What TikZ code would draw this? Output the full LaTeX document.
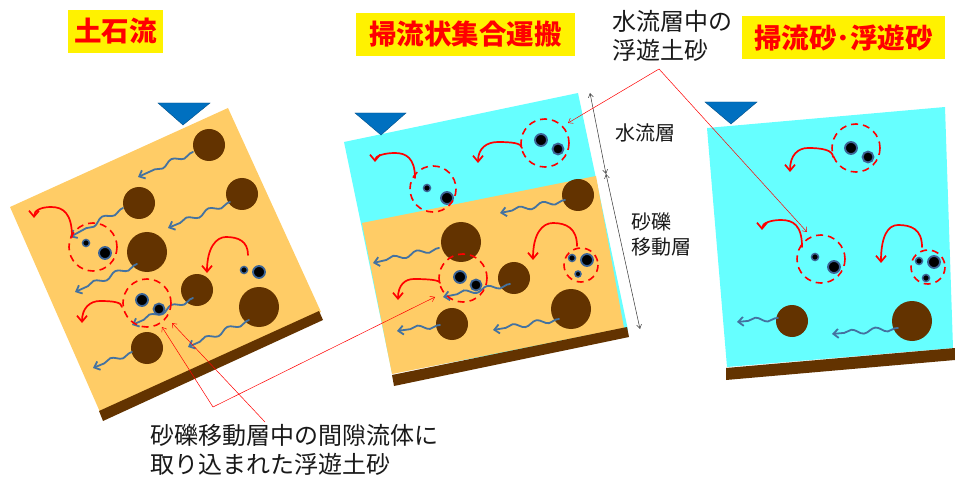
\documentclass[tikz,border=0pt]{standalone}
\usepackage{fontspec}
\setmainfont{Noto Sans CJK JP}
\usepackage{tikz}
\usetikzlibrary{arrows.meta,decorations.pathmorphing}
\definecolor{sand}{RGB}{255,204,102}
\definecolor{water}{RGB}{102,255,255}
\definecolor{gravel}{RGB}{99,51,0}
\definecolor{flowblue}{RGB}{68,114,160}
\definecolor{ringblue}{RGB}{60,100,150}
\definecolor{surface}{RGB}{0,112,192}

\tikzset{
  title/.style={fill=yellow, text=red, inner sep=0pt, minimum height=43pt,
    font=\fontsize{27.5}{30}\selectfont\bfseries},
  note/.style={align=left, inner sep=0pt, text=black!90,
    font=\fontsize{24}{29}\selectfont},
  tag/.style={align=left, inner sep=0pt, text=black!90,
    font=\fontsize{20}{25}\selectfont},
  flow/.style={draw=flowblue, line width=1.8pt, line cap=round, decorate,
    decoration={snake, amplitude=2.5pt, segment length=24pt,
      pre length=3pt, post length=10pt},
    -{Straight Barb[length=5pt,width=9pt]}},
  curl/.style={draw=red, line width=1.7pt, line cap=round,
    -{Straight Barb[length=6pt,width=10pt]}},
  cluster/.style={draw=red, line width=1.6pt, dash pattern=on 7pt off 5pt},
  bigfine/.style={fill=black, draw=ringblue, line width=1.8pt},
  smallfine/.style={fill=black, draw=ringblue, line width=1.5pt},
  leader/.style={draw=red, line width=0.5pt, -{Straight Barb[length=4pt,width=6pt]}},
  dim/.style={draw=black!80, line width=0.5pt,
    {Straight Barb[length=4pt,width=5pt]}-{Straight Barb[length=4pt,width=5pt]}}
}

\begin{document}
\begin{tikzpicture}[x=1pt, y=-1pt]
    \useasboundingbox (0,0) rectangle (955,478);

    % Debris flow block
    \fill[sand] (10,207) -- (228,108) -- (321,312) -- (100,412) -- cycle;
    \fill[gravel] (99,411) -- (319,311) -- (323,320) -- (103,421) -- cycle;
    \filldraw[fill=surface, draw=surface!70!black, line width=0.4pt]
        (158,103) -- (210,103) -- (183,125) -- cycle;

    % Immature debris flow block
    \fill[water] (344,142) -- (578,93) -- (628,330) -- (392,373) -- cycle;
    \fill[sand] (362,223) -- (596,176) -- (624,328) -- (392,374) -- cycle;
    \fill[gravel] (392,375) -- (627,327) -- (629,337) -- (394,386) -- cycle;
    \filldraw[fill=surface, draw=surface!70!black, line width=0.4pt]
        (355,113) -- (406,113) -- (381,135) -- cycle;

    % Bed load block
    \fill[water] (707,128) -- (945,107) -- (953,348) -- (727,367) -- cycle;
    \fill[gravel] (726,368) -- (955,348) -- (955,360) -- (726,380) -- cycle;
    \filldraw[fill=surface, draw=surface!70!black, line width=0.4pt]
        (705,102) -- (757,102) -- (731,124) -- cycle;

    % Gravel
    \fill[gravel] (209,145) circle (16);
    \fill[gravel] (139,203) circle (16);
    \fill[gravel] (242,194) circle (16);
    \fill[gravel] (147,252) circle (20);
    \fill[gravel] (197,290) circle (16);
    \fill[gravel] (259,307) circle (20);
    \fill[gravel] (147,348) circle (16);
    \fill[gravel] (578,195) circle (16);
    \fill[gravel] (461,242) circle (20);
    \fill[gravel] (514,278) circle (16);
    \fill[gravel] (571,309) circle (20);
    \fill[gravel] (452,324) circle (16);
    \fill[gravel] (792,321) circle (16);
    \fill[gravel] (912,321) circle (20);

    % Gravel motion
    \draw[flow] (193,152) -- (138,177);
    \draw[flow] (123,208) -- (70,237);
    \draw[flow] (230,202) -- (168,228);
    \draw[flow] (137,264) -- (75,292);
    \draw[flow] (193,298) -- (132,325);
    \draw[flow] (249,320) -- (188,347);
    \draw[flow] (132,352) -- (93,368);
    \draw[flow] (565,200) -- (500,213);
    \draw[flow] (439,248) -- (373,263);
    \draw[flow] (510,284) -- (443,297);
    \draw[flow] (559,319) -- (493,330);
    \draw[flow] (440,325) -- (397,331);
    \draw[flow] (778,318) -- (737,322);
    \draw[flow] (898,328) -- (832,334);

    % Fine particles
    \filldraw[smallfine] (86,243) circle (3.5);
    \filldraw[bigfine] (105,253) circle (6);
    \filldraw[bigfine] (142,300) circle (6);
    \filldraw[bigfine] (159,309) circle (5.5);
    \filldraw[smallfine] (244,270) circle (3.5);
    \filldraw[bigfine] (259,272) circle (6);
    \filldraw[bigfine] (541,140) circle (6);
    \filldraw[bigfine] (558,149) circle (5.5);
    \filldraw[smallfine] (427,188) circle (3.5);
    \filldraw[bigfine] (447,198) circle (6);
    \filldraw[bigfine] (460,277) circle (6);
    \filldraw[bigfine] (476,285) circle (5.5);
    \filldraw[smallfine] (572,258) circle (3.5);
    \filldraw[bigfine] (587,260) circle (6);
    \filldraw[smallfine] (578,274) circle (3);
    \filldraw[bigfine] (851,148) circle (6);
    \filldraw[bigfine] (868,157) circle (5.5);
    \filldraw[smallfine] (815,257) circle (3.5);
    \filldraw[bigfine] (834,267) circle (6);
    \filldraw[smallfine] (919,261) circle (3.5);
    \filldraw[bigfine] (934,262) circle (6);
    \filldraw[smallfine] (926,278) circle (3.5);

    % Suspended clusters
    \draw[cluster] (93,247) circle (24);
    \draw[cluster] (147,303) circle (24);
    \draw[cluster] (545,143) circle (24);
    \draw[cluster] (433,189) circle (23);
    \draw[cluster] (463,278) circle (24);
    \draw[cluster] (581,265) circle (17);
    \draw[cluster] (856,148) circle (24);
    \draw[cluster] (821,259) circle (24);
    \draw[cluster] (928,267) circle (17);

    % Turbulent paths
    \draw[curl] (72,237) .. controls (72,213) and (63,207) .. (51,207)
        .. controls (42,207) and (34,210) .. (34,218);
    \draw[curl] (248,255) .. controls (248,241) and (238,237) .. (226,237)
        .. controls (216,237) and (207,248) .. (207,273);
    \draw[curl] (122,307) .. controls (122,302) and (112,301) .. (100,301)
        .. controls (90,301) and (82,308) .. (82,323);
    \draw[curl] (522,148) .. controls (522,143) and (511,142) .. (498,142)
        .. controls (487,142) and (478,148) .. (478,163);
    \draw[curl] (415,178) .. controls (415,158) and (406,153) .. (395,153)
        .. controls (384,153) and (375,156) .. (375,162);
    \draw[curl] (440,283) .. controls (440,280) and (428,279) .. (414,279)
        .. controls (405,279) and (398,285) .. (398,300);
    \draw[curl] (577,246) .. controls (577,228) and (566,223) .. (553,223)
        .. controls (542,223) and (533,234) .. (533,260);
    \draw[curl] (833,157) .. controls (833,150) and (822,148) .. (808,148)
        .. controls (798,148) and (790,155) .. (790,172);
    \draw[curl] (802,247) .. controls (802,225) and (793,220) .. (781,220)
        .. controls (771,220) and (762,223) .. (762,230);
    \draw[curl] (922,247) .. controls (922,229) and (911,225) .. (898,225)
        .. controls (888,225) and (881,236) .. (881,263);

    % Titles
    \node[title, minimum width=95pt] (debris) at (115.5,31.5) {土石流};
    \node[title, minimum width=219pt] (immature) at (465.5,34.5) {掃流状集合運搬};
    \node[title, minimum width=203pt] (bedload) at (843.5,37.5) {掃流砂･浮遊砂};

    % Layer thickness
    \coordinate (surftop) at (590,93);
    \coordinate (layerjoin) at (606,174);
    \coordinate (bedtop) at (640,329);
    \draw[dim] (surftop) -- (layerjoin);
    \draw[dim] (layerjoin) -- (bedtop);
    \node[tag] (waterlayer) at (645,133) {水流層};
    \node[tag, anchor=west] (gravellayer) at (631,234) {砂礫\\移動層};

    % Callouts
    \node[note, anchor=west] (upper) at (612,36) {水流層中の\\浮遊土砂};
    \node[note, anchor=west] (lower) at (150,450) {砂礫移動層中の間隙流体に\\取り込まれた浮遊土砂};
    \coordinate (upperfork) at (659,69);
    \coordinate (upperleft) at (568,123);
    \coordinate (upperright) at (807,232);
    \coordinate (lowerfork) at (213,407);
    \coordinate (lowertail) at (265,422);
    \coordinate (pore1) at (162,327);
    \coordinate (pore2) at (172,323);
    \coordinate (pore3) at (435,297);
    \draw[leader] (upperfork) -- (upperleft);
    \draw[leader] (upperfork) -- (upperright);
    \draw[leader] (lowerfork) -- (pore1);
    \draw[leader] (lowerfork) -- (pore3);
    \draw[leader] (lowertail) -- (pore2);
\end{tikzpicture}
\end{document}
